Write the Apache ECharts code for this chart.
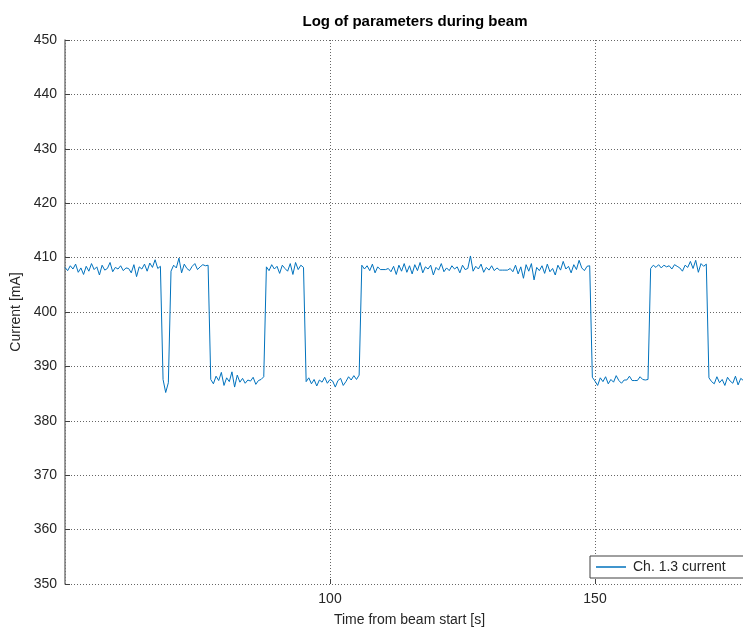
<!DOCTYPE html>
<html>
<head>
<meta charset="utf-8">
<script src="https://cdn.jsdelivr.net/npm/echarts@6/dist/echarts.min.js"></script>
<style>
html,body{margin:0;padding:0;background:#fff;}
#chart{width:743px;height:630px;}
</style>
</head>
<body>
<div id="chart"></div>
<script>
// Sampling of the log (seconds)
var tStart = 50;
var tStep = 0.5;
var seriesName = "Ch. 1.3 current";
var yTicks = [350, 360, 370, 380, 390, 400, 410, 420, 430, 440, 450];
var xTicks = [100, 150];

// Current values [mA], one per sample
var current = [
  // 50.0 - 68.0 high
  408.2, 407.6, 408.5, 407.9, 408.8, 407.3, 408.1, 406.9, 408.4, 407.5, 408.9, 407.8, 408.3, 406.8, 408.6, 407.7, 408.0, 409.1, 407.4, 408.2,
  407.9, 408.5, 407.6, 408.1, 408.0, 407.2, 408.7, 406.5, 408.3, 407.9, 408.8, 407.5, 409.0, 408.2, 409.6, 408.0, 408.4,
  // 68.5 - 69.5 low
  387.6, 385.2, 387.0,
  // 70.0 - 77.0 high
  407.5, 408.6, 408.1, 409.9, 407.2, 408.8, 408.0, 407.6, 408.4, 408.9, 407.8, 408.3, 408.7, 408.5, 408.6,
  // 77.5 - 87.5 low
  387.6, 386.8, 388.2, 387.4, 388.9, 386.5, 387.9, 387.2, 389.0, 386.2, 388.4, 387.1, 387.8, 386.9, 387.5, 387.3, 388.0, 386.7, 387.4, 387.6, 388.1,
  // 88.0 - 95.0 high
  408.3, 407.6, 408.7, 407.9, 408.4, 407.1, 408.6, 408.0, 407.5, 408.9, 406.9, 409.1, 407.8, 408.6, 408.2,
  // 95.5 - 105.5 low
  387.2, 387.9, 386.8, 387.6, 386.4, 387.5, 387.1, 388.0, 386.9, 387.6, 387.3, 386.2, 387.4, 387.8, 386.5, 387.2, 388.1, 387.5, 388.3, 387.6, 388.4,
  // 106.0 - 149.0 high
  408.6, 407.9, 408.5, 407.6, 408.8, 407.2, 408.3, 407.8, 407.8, 407.8, 408.0, 407.4, 408.4, 406.9, 408.6, 407.5, 408.9, 407.3, 408.5, 407.0,
  408.7, 407.6, 409.1, 407.2, 408.3, 407.9, 408.6, 406.8, 408.2, 407.7,
  408.9, 407.4, 408.1, 407.6, 408.5, 407.9, 408.3, 407.2, 408.6, 407.8, 408.0, 410.3, 407.5, 408.4, 407.9, 408.8, 407.3, 408.2, 407.7, 408.5,
  407.6, 408.1, 407.7, 407.7, 407.7, 407.7, 408.0, 407.4, 408.6, 407.0, 408.3, 406.2, 408.7, 407.5, 408.9, 405.9, 408.2, 407.6, 408.5, 407.1,
  408.8, 407.4, 408.0, 406.8, 408.6, 407.7, 409.3, 407.9, 408.4, 407.2, 408.7, 407.8, 409.5, 408.1, 407.6, 408.4, 408.5,
  // 149.5 - 160.0 low
  388.0, 387.3, 386.5, 387.9, 387.2, 388.1, 386.8, 387.6, 387.1, 388.3, 387.4, 386.9, 387.5, 387.5, 388.2, 387.4, 387.4, 387.4, 388.1, 387.6, 387.5, 387.6,
  // 160.5 - 171.0 high
  408.0, 408.6, 408.2, 408.7, 408.1, 408.6, 408.3, 408.5, 407.9, 408.7, 408.4, 408.1, 407.5, 408.6, 408.2, 409.3, 408.0, 409.5, 407.3, 408.9, 408.4, 408.8,
  // 171.5 - 178.0 low
  387.9, 387.2, 386.8, 388.1, 387.0, 387.6, 386.5, 388.0, 387.3, 386.9, 388.2, 386.6, 387.8, 387.4
];

var points = current.map(function (v, i) { return [tStart + i * tStep, v]; });

var chart = echarts.init(document.getElementById('chart'), null, {renderer: 'canvas'});
var font = 'Liberation Sans, Arial, Helvetica, sans-serif';
var txt = '#262626';
chart.setOption({
  animation: false,
  backgroundColor: '#ffffff',
  title: {
    text: 'Log of parameters during beam',
    left: 410, top: 9, textAlign: 'center',
    textStyle: {fontFamily: font, fontSize: 15, fontWeight: 'bold', color: '#000'}
  },
  legend: {
    data: [seriesName],
    left: 590, top: 556,
    orient: 'horizontal',
    icon: 'rect', itemWidth: 30, itemHeight: 1.5, itemGap: 6,
    padding: [4, 22, 4, 6],
    borderColor: '#404040', borderWidth: 1, backgroundColor: '#ffffff',
    textStyle: {fontFamily: font, fontSize: 14, color: txt, padding: [0, 0, 0, 2]}
  },
  grid: {left: 65, right: -11, top: 40, bottom: 46, containLabel: false, outerBoundsMode: 'none'},
  xAxis: {
    type: 'value', min: 50, max: 180, interval: 50,
    name: 'Time from beam start [s]', nameLocation: 'middle', nameGap: 29,
    nameTextStyle: {fontFamily: font, fontSize: 14, color: txt},
    axisLine: {show: false},
    axisTick: {show: true, inside: true, length: 5, lineStyle: {color: '#404040'}},
    axisLabel: {
      fontFamily: font, fontSize: 14, color: txt, margin: 8, showMinLabel: false,
      formatter: function (v) { return xTicks.indexOf(v) >= 0 ? String(v) : ''; }
    },
    splitLine: {show: true, lineStyle: {color: '#666', type: [1, 2], width: 1}}
  },
  yAxis: {
    type: 'value', min: yTicks[0], max: yTicks[yTicks.length - 1], interval: 10,
    name: 'Current [mA]', nameLocation: 'middle', nameGap: 38,
    nameTextStyle: {fontFamily: font, fontSize: 14, color: txt},
    axisLine: {show: true, lineStyle: {color: '#7a7a7a', width: 1.5}},
    axisTick: {show: true, inside: true, length: 5, lineStyle: {color: '#404040'}},
    axisLabel: {fontFamily: font, fontSize: 14, color: txt, margin: 8},
    splitLine: {show: true, lineStyle: {color: '#666', type: [1, 2], width: 1}}
  },
  series: [{
    name: seriesName,
    type: 'line',
    data: points,
    symbol: 'none',
    lineStyle: {color: '#0072BD', width: 1},
    itemStyle: {color: '#0072BD'},
    clip: true
  }]
});
</script>
</body>
</html>
